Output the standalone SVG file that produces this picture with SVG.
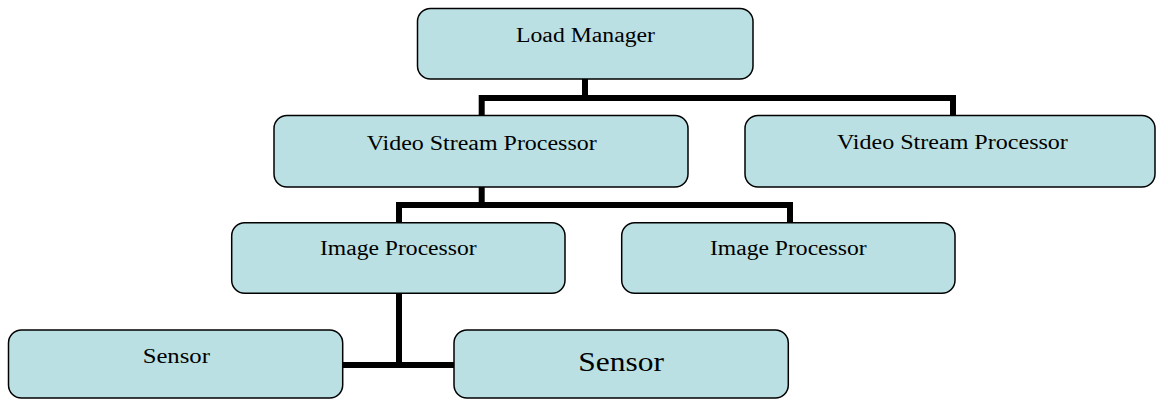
<svg xmlns="http://www.w3.org/2000/svg" width="1156" height="400" viewBox="0 0 1156 400">
  <style>
    .box { fill: #BBE0E3; stroke: #000; stroke-width: 1.5; }
    .lbl { font-family: "Liberation Serif", "Times New Roman", serif; font-size: 20px; fill: #000; text-anchor: middle; }
    .big { font-size: 27px; }
    .conn { fill: none; stroke: #000; stroke-width: 6; stroke-linejoin: miter; }
  </style>
  <rect width="1156" height="400" fill="#fff"/>
  <g id="connectors">
    <line class="conn" x1="585" y1="79" x2="585" y2="98"/>
    <polyline class="conn" points="481.7,116 481.7,98 953,98 953,116"/>
    <line class="conn" x1="481.7" y1="187" x2="481.7" y2="205"/>
    <polyline class="conn" points="399,223 399,205 790,205 790,223"/>
    <line class="conn" x1="399" y1="293" x2="399" y2="365"/>
    <line class="conn" x1="342.7" y1="365" x2="454" y2="365"/>
  </g>
  <g id="load-manager">
    <rect class="box" x="417.5" y="8.5" width="335.5" height="70.5" rx="13"/>
    <text class="lbl" x="585.5" y="42.3" textLength="139" lengthAdjust="spacingAndGlyphs">Load Manager</text>
  </g>
  <g id="vsp-1">
    <rect class="box" x="274" y="115.5" width="414" height="71.5" rx="13"/>
    <text class="lbl" x="481.7" y="149.5" textLength="230" lengthAdjust="spacingAndGlyphs">Video Stream Processor</text>
  </g>
  <g id="vsp-2">
    <rect class="box" x="745" y="115.5" width="410" height="71.5" rx="13"/>
    <text class="lbl" x="952.4" y="149" textLength="231" lengthAdjust="spacingAndGlyphs">Video Stream Processor</text>
  </g>
  <g id="image-processor-1">
    <rect class="box" x="231.7" y="222.7" width="333.3" height="70.6" rx="13"/>
    <text class="lbl" x="398.3" y="255" textLength="156.7" lengthAdjust="spacingAndGlyphs">Image Processor</text>
  </g>
  <g id="image-processor-2">
    <rect class="box" x="621.7" y="222.7" width="333.3" height="70.6" rx="13"/>
    <text class="lbl" x="788.3" y="255" textLength="156.7" lengthAdjust="spacingAndGlyphs">Image Processor</text>
  </g>
  <g id="sensor-1">
    <rect class="box" x="8.5" y="330" width="334.2" height="68" rx="13"/>
    <text class="lbl" x="176.3" y="363.3" textLength="67.3" lengthAdjust="spacingAndGlyphs">Sensor</text>
  </g>
  <g id="sensor-2">
    <rect class="box" x="454" y="330" width="334.3" height="68" rx="13"/>
    <text class="lbl big" x="621.2" y="370.7" textLength="85.7" lengthAdjust="spacingAndGlyphs">Sensor</text>
  </g>
</svg>
